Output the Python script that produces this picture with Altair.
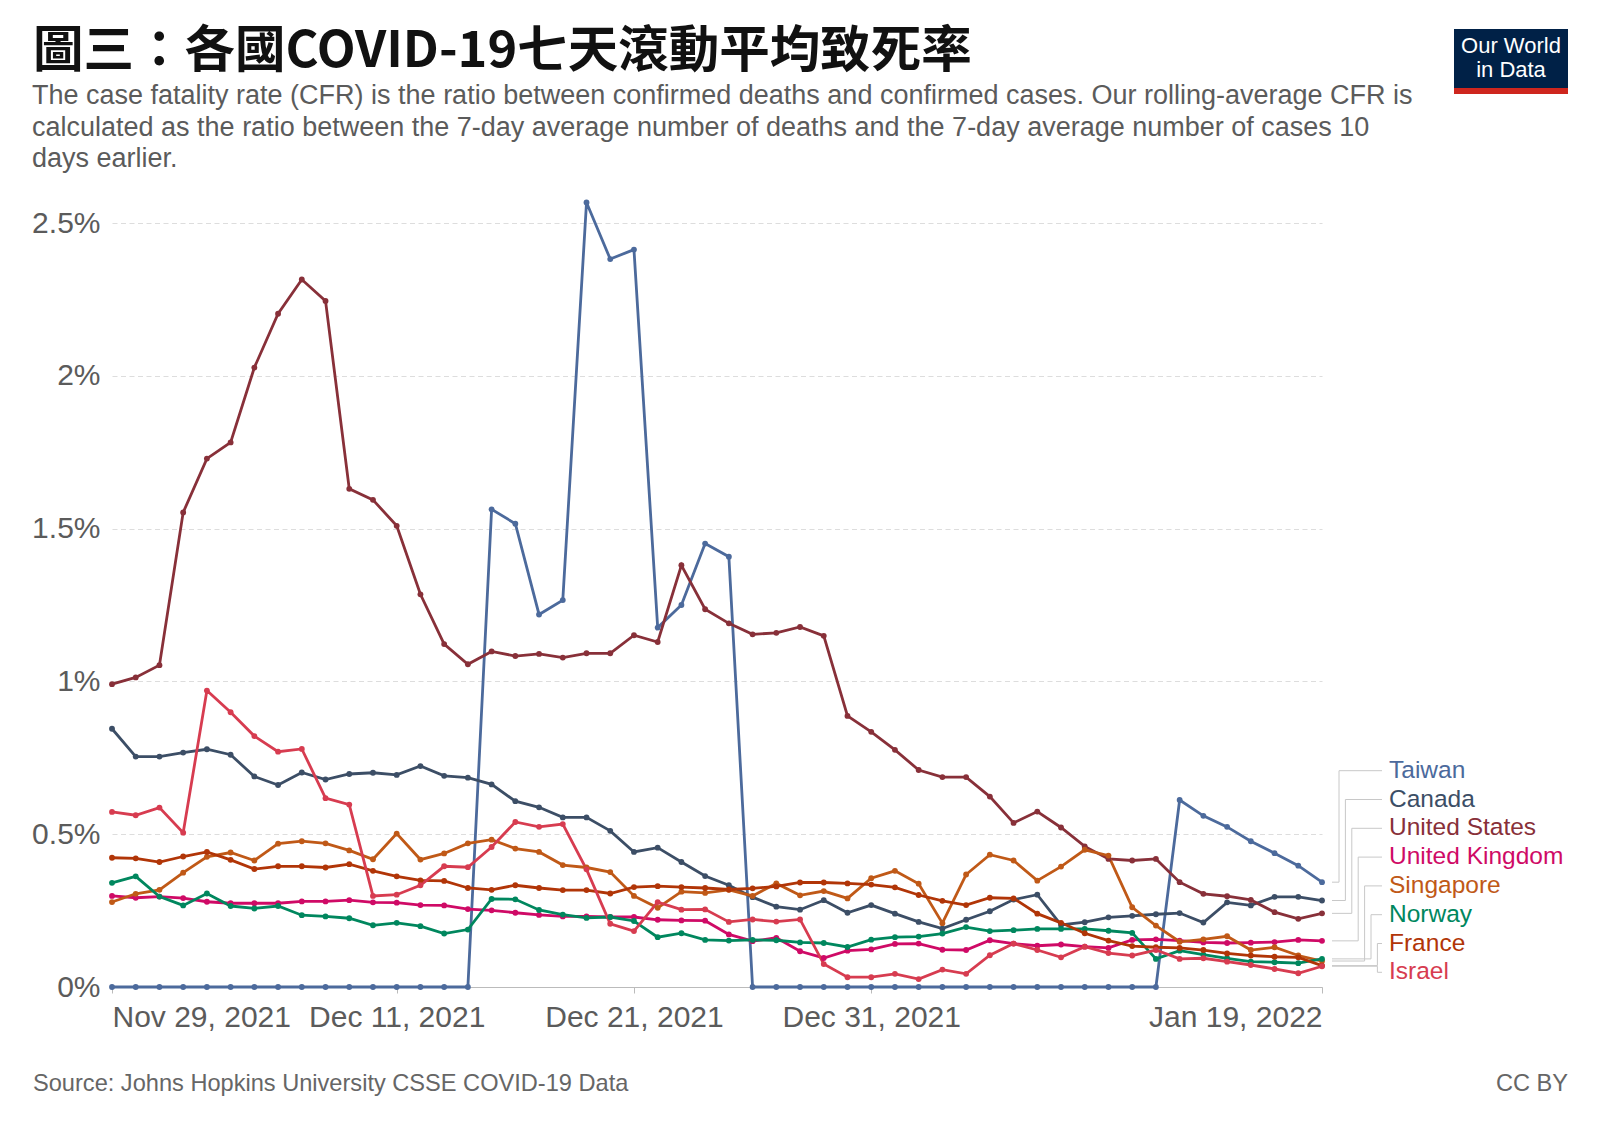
import altair as alt
import pandas as pd

# ---------------- data ----------------
dates = pd.date_range("2021-11-29", "2022-01-19", freq="D").strftime("%Y-%m-%d").tolist()

taiwan = [0, 0, 0, 0, 0, 0, 0, 0, 0, 0, 0, 0, 0, 0, 0, 0,
          1.563, 1.516, 1.219, 1.266, 2.567, 2.382, 2.413, 1.176, 1.250, 1.451, 1.408,
          0, 0, 0, 0, 0, 0, 0, 0, 0, 0, 0, 0, 0, 0, 0, 0, 0, 0,
          0.612, 0.560, 0.524, 0.477, 0.438, 0.397, 0.343]
canada = [0.845, 0.754, 0.754, 0.767, 0.778, 0.760, 0.689, 0.661, 0.702, 0.679, 0.697, 0.701, 0.694,
          0.723, 0.691, 0.685, 0.663, 0.608, 0.588, 0.555, 0.555, 0.511, 0.442, 0.456, 0.409, 0.363,
          0.333, 0.294, 0.263, 0.253, 0.284, 0.243, 0.268, 0.240, 0.213, 0.191, 0.220, 0.248, 0.286,
          0.302, 0.203, 0.212, 0.228, 0.233, 0.238, 0.242, 0.211, 0.277, 0.267, 0.295, 0.295, 0.283]
united_states = [0.991, 1.013, 1.053, 1.553, 1.729, 1.782, 2.027, 2.203, 2.315, 2.245, 1.630, 1.594, 1.509,
                 1.285, 1.122, 1.056, 1.098, 1.083, 1.090, 1.078, 1.092, 1.092, 1.151, 1.129, 1.380, 1.236,
                 1.190, 1.154, 1.159, 1.178, 1.149, 0.887, 0.835, 0.776, 0.710, 0.687, 0.687, 0.623, 0.537,
                 0.574, 0.522, 0.460, 0.419, 0.414, 0.419, 0.343, 0.305, 0.297, 0.285, 0.245, 0.223, 0.241]
united_kingdom = [0.298, 0.292, 0.296, 0.291, 0.279, 0.274, 0.274, 0.274, 0.280, 0.280, 0.284, 0.277, 0.276,
                  0.268, 0.267, 0.255, 0.251, 0.243, 0.236, 0.231, 0.231, 0.229, 0.229, 0.220, 0.218, 0.217,
                  0.172, 0.150, 0.161, 0.117, 0.095, 0.119, 0.123, 0.141, 0.142, 0.122, 0.121, 0.153, 0.142,
                  0.135, 0.139, 0.132, 0.128, 0.154, 0.156, 0.152, 0.146, 0.144, 0.145, 0.147, 0.154, 0.151]
singapore = [0.278, 0.305, 0.318, 0.374, 0.426, 0.440, 0.414, 0.469, 0.477, 0.470, 0.447, 0.418, 0.502,
             0.417, 0.437, 0.470, 0.482, 0.453, 0.442, 0.399, 0.391, 0.376, 0.298, 0.259, 0.312, 0.308,
             0.318, 0.298, 0.339, 0.300, 0.314, 0.290, 0.356, 0.380, 0.338, 0.209, 0.368, 0.433, 0.414,
             0.348, 0.394, 0.449, 0.430, 0.261, 0.201, 0.148, 0.156, 0.166, 0.121, 0.130, 0.103, 0.085]
norway = [0.341, 0.362, 0.296, 0.267, 0.306, 0.265, 0.257, 0.265, 0.235, 0.231, 0.225, 0.202, 0.210,
          0.199, 0.175, 0.188, 0.288, 0.287, 0.252, 0.237, 0.226, 0.229, 0.216, 0.163, 0.176, 0.154,
          0.152, 0.154, 0.153, 0.146, 0.144, 0.131, 0.155, 0.163, 0.165, 0.175, 0.196, 0.183, 0.186,
          0.190, 0.190, 0.190, 0.184, 0.177, 0.092, 0.119, 0.106, 0.094, 0.083, 0.081, 0.078, 0.092]
france = [0.423, 0.421, 0.409, 0.427, 0.442, 0.416, 0.386, 0.395, 0.395, 0.391, 0.402, 0.380, 0.362,
          0.349, 0.347, 0.324, 0.318, 0.333, 0.324, 0.317, 0.317, 0.306, 0.327, 0.330, 0.327, 0.324,
          0.319, 0.323, 0.329, 0.342, 0.342, 0.339, 0.335, 0.326, 0.301, 0.282, 0.268, 0.292, 0.290,
          0.240, 0.210, 0.176, 0.152, 0.134, 0.130, 0.128, 0.121, 0.110, 0.103, 0.099, 0.097, 0.070]
israel = [0.573, 0.562, 0.587, 0.505, 0.970, 0.899, 0.821, 0.770, 0.779, 0.618, 0.597, 0.298, 0.302,
          0.333, 0.395, 0.392, 0.458, 0.540, 0.524, 0.533, 0.385, 0.207, 0.183, 0.278, 0.253, 0.254,
          0.213, 0.221, 0.214, 0.221, 0.075, 0.032, 0.032, 0.043, 0.026, 0.057, 0.043, 0.104, 0.142,
          0.121, 0.097, 0.132, 0.111, 0.103, 0.121, 0.092, 0.094, 0.083, 0.072, 0.059, 0.045, 0.068]

series_names = ["Taiwan", "Canada", "United States", "United Kingdom",
                "Singapore", "Norway", "France", "Israel"]
series_values = [taiwan, canada, united_states, united_kingdom, singapore, norway, france, israel]
series_colors = ["#4C6A9C", "#3C4E66", "#883039", "#CF0A66",
                 "#C05917", "#00875E", "#B13507", "#D73C50"]

title_text = "圖三：各國COVID-19七天滾動平均致死率"
subtitle_lines = [
    "The case fatality rate (CFR) is the ratio between confirmed deaths and confirmed cases. Our rolling-average CFR is",
    "calculated as the ratio between the 7-day average number of deaths and the 7-day average number of cases 10",
    "days earlier.",
]
source_text = "Source: Johns Hopkins University CSSE COVID-19 Data"
license_text = "CC BY"
logo_lines = ["Our World", "in Data"]
x_tick_dates = [(2021, 11, 29), (2021, 12, 11), (2021, 12, 21), (2021, 12, 31), (2022, 1, 19)]
y_ticks = [0, 0.5, 1, 1.5, 2, 2.5]

# ---------------- tables ----------------
rows = []
for name, vals in zip(series_names, series_values):
    for d, v in zip(dates, vals):
        rows.append({"date": d, "country": name, "value": v})
df = pd.DataFrame(rows)

# ---------------- layout ----------------
W, H = 1210, 764
PAD_L, PAD_T = 104, 215
TOTAL_W, TOTAL_H = 1581, 1109
Y_MAX = 2.5
px_per_unit = H / Y_MAX
label_gap = 28.8 / px_per_unit
label_floor = 14.7 / px_per_unit
n = len(series_names)

lab = pd.DataFrame({
    "country": series_names,
    "last": [v[-1] for v in series_values],
    "label_v": [label_floor + label_gap * (n - 1 - k) for k in range(n)],
})

SANS = "Liberation Sans, Arial, Helvetica, sans-serif"
CJK = "Noto Sans CJK TC"

xscale = alt.Scale(type="utc", nice=False,
                   domain=[alt.DateTime(year=2021, month=11, date=29, utc=True),
                           alt.DateTime(year=2022, month=1, date=19, utc=True)])
yscale = alt.Scale(domain=[0, Y_MAX], nice=False, zero=True)
cscale = alt.Scale(domain=series_names, range=series_colors)

xaxis = alt.Axis(
    values=[alt.DateTime(year=y, month=m, date=d, utc=True) for (y, m, d) in x_tick_dates],
    format="%b %d, %Y", title=None, grid=False,
    domain=True, domainColor="#bbbbbb", domainWidth=1,
    ticks=True, tickColor="#bbbbbb", tickSize=6,
    labelFont=SANS, labelFontSize=30, labelColor="#5b5b5b", labelLimit=0,
    labelPadding=9, labelFlush=True, labelOverlap=False,
)
yaxis = alt.Axis(
    values=y_ticks, title=None, labelExpr="datum.value + '%'",
    grid=True, gridDash=[5, 3.5], gridColor="#dddddd", gridWidth=1,
    domain=False, ticks=False, tickSize=0,
    labelFont=SANS, labelFontSize=30, labelColor="#5b5b5b", labelPadding=12,
)

lines = alt.Chart(df).mark_line(
    strokeWidth=2.8, point=alt.OverlayMarkDef(filled=True, size=34)
).encode(
    x=alt.X("date:T", scale=xscale, axis=xaxis),
    y=alt.Y("value:Q", scale=yscale, axis=yaxis),
    color=alt.Color("country:N", scale=cscale, legend=None),
)

layers = [lines]

# connector lines and series labels
start_x = W + 10
end_x = W + 60
label_x = W + 67
CONN = "#c8c8c8"
for k, name in enumerate(series_names):
    sub = lab[lab["country"] == name]
    elbow = W + 17 + 6.4 * min(k, 6)
    layers.append(alt.Chart(sub).mark_rule(color=CONN, strokeWidth=1).encode(
        x=alt.value(start_x), x2=alt.value(elbow),
        y=alt.Y("last:Q", scale=yscale, axis=yaxis)))
    layers.append(alt.Chart(sub).mark_rule(color=CONN, strokeWidth=1).encode(
        x=alt.value(elbow),
        y=alt.Y("last:Q", scale=yscale, axis=yaxis), y2="label_v:Q"))
    layers.append(alt.Chart(sub).mark_rule(color=CONN, strokeWidth=1).encode(
        x=alt.value(elbow), x2=alt.value(end_x),
        y=alt.Y("label_v:Q", scale=yscale, axis=yaxis)))

layers.append(alt.Chart(lab).mark_text(
    align="left", baseline="middle", font=SANS, fontSize=24.5
).encode(
    x=alt.value(label_x),
    y=alt.Y("label_v:Q", scale=yscale, axis=yaxis),
    text="country:N",
    color=alt.Color("country:N", scale=cscale, legend=None),
))


def text_layer(txt, x, y, size, color, font=SANS, align="left", weight="normal"):
    return alt.Chart(pd.DataFrame({"t": [txt]})).mark_text(
        align=align, baseline="alphabetic", font=font, fontSize=size,
        color=color, fontWeight=weight
    ).encode(text="t:N", x=alt.value(x), y=alt.value(y))


# title & subtitle (plot coords: origin at plot top-left)
layers.append(text_layer(title_text, -79, -156, 50.5, "#111111", font=CJK, weight="bold"))
for i, line in enumerate(subtitle_lines):
    layers.append(text_layer(line, -80, -119 + 31.7 * i, 27, "#5b5b5b"))

# footer
layers.append(text_layer(source_text, -79, 868, 23.6, "#666666"))
layers.append(text_layer(license_text, 1456, 868, 23.6, "#666666", align="right"))

# logo
one = pd.DataFrame({"k": [0]})
layers.append(alt.Chart(one).mark_rect(color="#002147").encode(
    x=alt.value(1342), x2=alt.value(1456), y=alt.value(-194), y2=alt.value(-135)))
layers.append(alt.Chart(one).mark_rect(color="#CE261E").encode(
    x=alt.value(1342), x2=alt.value(1456), y=alt.value(-135), y2=alt.value(-129)))
LOGO_FONT = "Liberation Sans, Arial, sans-serif"
layers.append(text_layer(logo_lines[0], 1399, -170, 22, "#ffffff", font=LOGO_FONT, align="center"))
layers.append(text_layer(logo_lines[1], 1399, -146, 22, "#ffffff", font=LOGO_FONT, align="center"))

chart = alt.layer(*layers).properties(
    width=W, height=H,
    autosize=alt.AutoSizeParams(type="none"),
    padding={"left": PAD_L, "top": PAD_T, "right": TOTAL_W - PAD_L - W, "bottom": TOTAL_H - PAD_T - H},
    background="white",
).configure_view(stroke=None)

chart.save("out.html", embed_options={"renderer": "svg", "actions": False})
